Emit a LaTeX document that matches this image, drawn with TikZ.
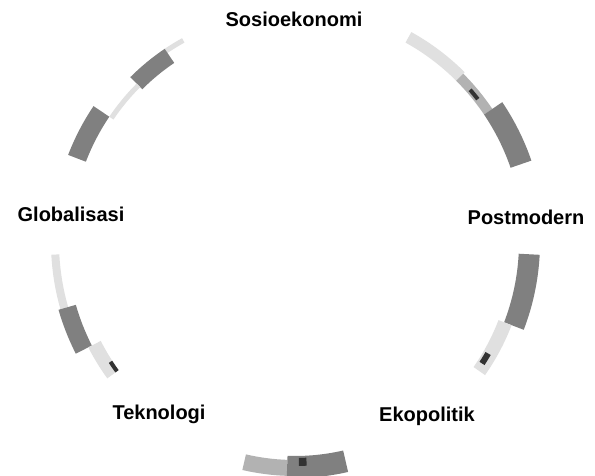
\documentclass[tikz,border=0pt]{standalone}
\usepackage{fontspec}
\setmainfont{Liberation Sans}
\newcommand{\bandseg}[5]{%
  \fill[#5] ($(c)+(#1:#4)$) arc[start angle=#1,end angle=#2,radius=#4]
    -- ($(c)+(#2:#3)$) arc[start angle=#2,end angle=#1,radius=#3] -- cycle;}
\usetikzlibrary{calc}
\begin{document}
\begin{tikzpicture}[x=1pt,y=1pt,
  lbl/.style={font=\bfseries\fontsize{20}{24}\selectfont, inner sep=0pt, anchor=base},
  dense/.style={fill=black!50},
  medium/.style={fill=black!30},
  faint/.style={fill=black!12},
  darkbit/.style={fill=black!80}]
\useasboundingbox (0,0) rectangle (595,476);
\fill[white] (0,0) rectangle (595,476);
\coordinate (c) at (295,234);
% labels
\node[lbl] (sosio) at (294,449) {Sosioekonomi};
\node[lbl] (glob) at (71,254) {Globalisasi};
\node[lbl] (post) at (526,251) {Postmodern};
\node[lbl] (tek) at (159,56) {Teknologi};
\node[lbl] (eko) at (427,54) {Ekopolitik};
% top-left arc (Globalisasi - Sosioekonomi)
\bandseg{119}{124}{228}{233}{faint}
\bandseg{124}{135}{216}{233}{dense}
\bandseg{135}{146}{219}{224}{faint}
\bandseg{146}{159}{224}{243}{dense}
% top-right arc (Sosioekonomi - Postmodern)
\bandseg{45}{61}{228}{240}{faint}
\bandseg{34}{45}{228}{238}{medium}
\bandseg{38}{41}{230}{234}{darkbit}
\bandseg{19}{34}{228}{250}{dense}
% right arc (Postmodern - Ekopolitik)
\bandseg{-21}{-3}{224}{245}{dense}
\bandseg{-35}{-21}{218}{232}{faint}
\bandseg{-33}{-30}{220}{226}{darkbit}
% bottom arc (Ekopolitik - Teknologi)
\bandseg{257}{268}{218}{234}{medium}
\bandseg{268}{283}{214}{236}{dense}
\bandseg{271}{273}{216}{224}{darkbit}
% left arc (Teknologi - Globalisasi)
\bandseg{183}{196}{236}{244}{faint}
\bandseg{196}{207}{228}{246}{dense}
\bandseg{207}{216}{218}{232}{faint}
\bandseg{213}{216}{218}{222}{darkbit}
\end{tikzpicture}
\end{document}
